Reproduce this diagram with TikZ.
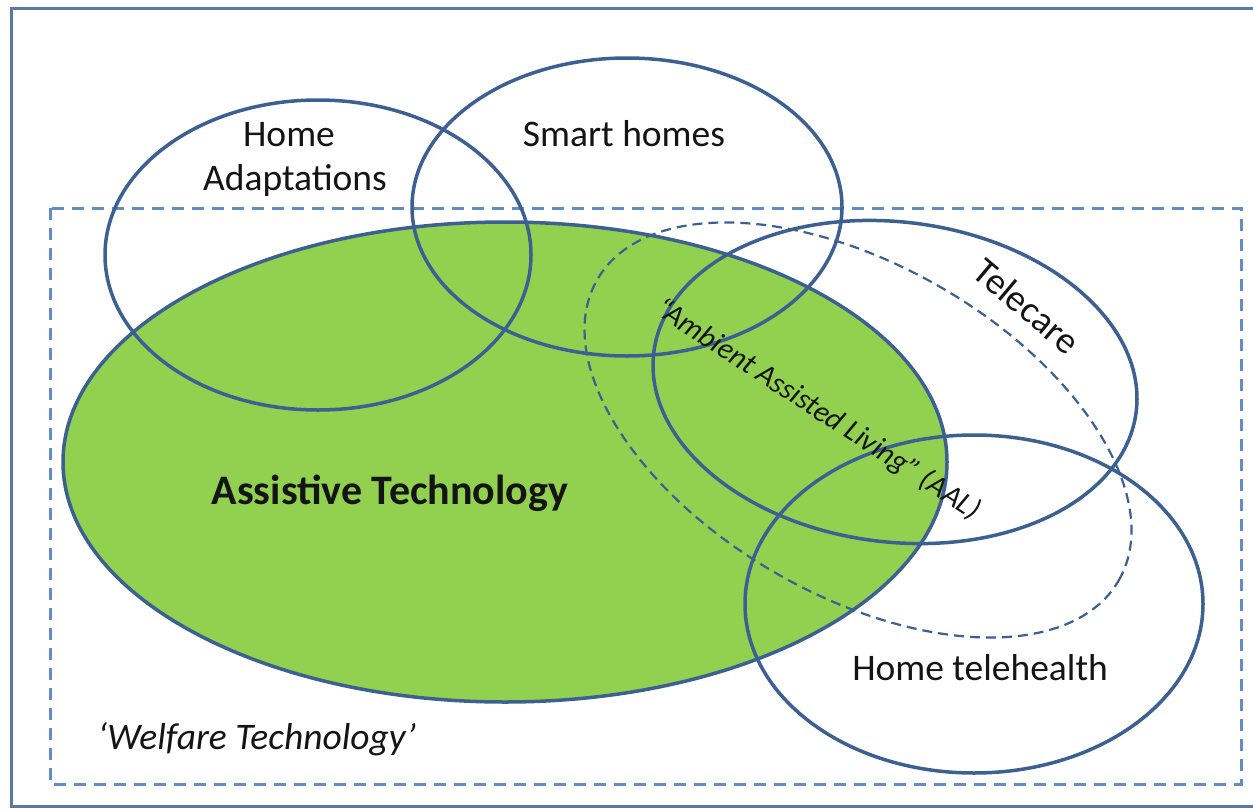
\documentclass[tikz,border=0pt]{standalone}
\usepackage{fontspec}
\setmainfont{Carlito}
\definecolor{ringblue}{RGB}{60,96,145}
\definecolor{dashblue}{RGB}{98,140,200}
\definecolor{atgreen}{RGB}{146,208,80}
\definecolor{txt}{RGB}{20,20,20}
\tikzset{
  ring/.style={draw=ringblue, line width=3.5pt},
  aalring/.style={draw=ringblue, line width=2.2pt, dash pattern=on 10pt off 6pt},
  welfarebox/.style={draw=dashblue, line width=3pt, dash pattern=on 12pt off 8pt},
  lbl/.style={text=txt, font=\fontsize{37.5}{42}\selectfont, inner sep=0pt, anchor=base}
}
\begin{document}
\begin{tikzpicture}[x=1pt,y=-1pt]
\useasboundingbox (0,0) rectangle (1253,809);
\fill[white] (0,0) rectangle (1253,809);
% outer frame
\draw[draw=ringblue!85, line width=3pt] (1270,8) -- (11,8) -- (11,806) -- (1270,806);
% Welfare technology box
\draw[welfarebox] (50,208) rectangle (1241,784);
% Assistive technology
\draw[ring, fill=atgreen] (505,462) ellipse [x radius=442pt, y radius=240pt];
% AAL dashed
\draw[aalring, rotate around={-30:(858,430)}] (858,430) ellipse [x radius=301pt, y radius=165pt];
% Home adaptations
\draw[ring] (318,255) ellipse [x radius=213pt, y radius=155pt];
% Smart homes
\draw[ring] (627,207) ellipse [x radius=215pt, y radius=149pt];
% Telecare
\draw[ring, rotate around={-7:(895,382)}] (895,382) ellipse [x radius=243pt, y radius=160pt];
% Home telehealth
\draw[ring] (974,604) ellipse [x radius=229pt, y radius=169pt];
% labels
\node[lbl] (home) at (289,146) {Home};
\node[lbl] (adapt) at (295,190) {Adaptations};
\node[lbl] (smart) at (624,146) {Smart homes};
\node[lbl, anchor=center, rotate=-40] (telecare) at (1027,306) {Telecare};
\node[lbl] (tele) at (980,680) {Home telehealth};
\node[lbl, font=\fontsize{42}{48}\selectfont\bfseries] (at) at (390,504) {Assistive Technology};
\node[lbl, font=\fontsize{37.5}{42}\selectfont\itshape] (welfare) at (257,749) {‘Welfare Technology’};
\node[lbl, anchor=center, font=\fontsize{30}{34}\selectfont\itshape, rotate=-33] (aal) at (818,410) {“Ambient Assisted Living” (AAL)};
\end{tikzpicture}
\end{document}
